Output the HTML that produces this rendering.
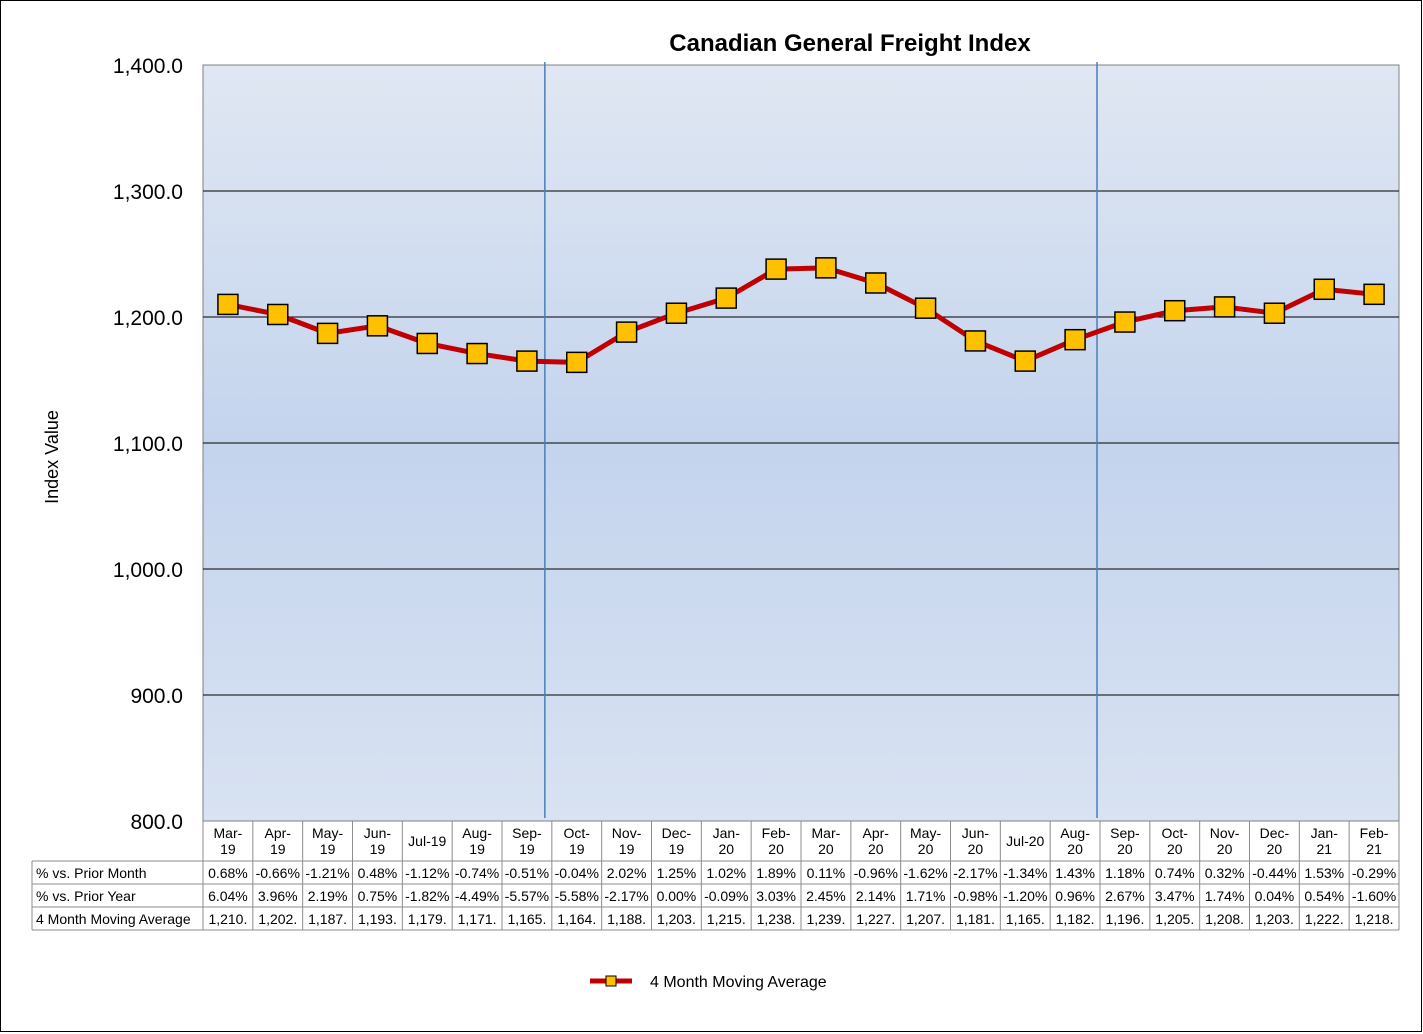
<!DOCTYPE html>
<html><head><meta charset="utf-8"><style>
body{margin:0;background:#fff;}
svg{display:block;font-family:"Liberation Sans",Arial,sans-serif;}
</style></head><body>
<svg id="chart" width="1423" height="1034" viewBox="0 0 1423 1034" xmlns="http://www.w3.org/2000/svg">
<defs>
<linearGradient id="bg" x1="0" y1="0" x2="0" y2="1">
<stop offset="0" stop-color="#e0e7f3"/>
<stop offset="0.5" stop-color="#c4d4ed"/>
<stop offset="1" stop-color="#d8e2f2"/>
</linearGradient>
</defs>
<rect x="0.5" y="0.5" width="1421" height="1031" fill="#fff" stroke="#000"/>
<text x="850" y="51" text-anchor="middle" font-size="24" font-weight="bold">Canadian General Freight Index</text>
<rect x="203" y="65" width="1196" height="756" fill="url(#bg)" stroke="#808080"/>
<text transform="translate(58,457) rotate(-90)" text-anchor="middle" font-size="18">Index Value</text>
<g id="grid"></g><g id="yticks"></g><g id="vlines"></g><g id="series"></g><g id="table"></g>
<g>
<line x1="590" y1="981" x2="632" y2="981" stroke="#c00000" stroke-width="5"/>
<rect x="606" y="976" width="10" height="10" fill="#ffc000" stroke="#000"/>
<text x="650" y="987" font-size="16">4 Month Moving Average</text>
</g>
</svg>
<script>
const categories=["Mar-19","Apr-19","May-19","Jun-19","Jul-19","Aug-19","Sep-19","Oct-19","Nov-19","Dec-19","Jan-20","Feb-20","Mar-20","Apr-20","May-20","Jun-20","Jul-20","Aug-20","Sep-20","Oct-20","Nov-20","Dec-20","Jan-21","Feb-21"];
const movingAvg=[1210,1202,1187,1193,1179,1171,1165,1164,1188,1203,1215,1238,1239,1227,1207,1181,1165,1182,1196,1205,1208,1203,1222,1218];
const priorMonth=["0.68%","-0.66%","-1.21%","0.48%","-1.12%","-0.74%","-0.51%","-0.04%","2.02%","1.25%","1.02%","1.89%","0.11%","-0.96%","-1.62%","-2.17%","-1.34%","1.43%","1.18%","0.74%","0.32%","-0.44%","1.53%","-0.29%"];
const priorYear=["6.04%","3.96%","2.19%","0.75%","-1.82%","-4.49%","-5.57%","-5.58%","-2.17%","0.00%","-0.09%","3.03%","2.45%","2.14%","1.71%","-0.98%","-1.20%","0.96%","2.67%","3.47%","1.74%","0.04%","0.54%","-1.60%"];
const yTicks=[800,900,1000,1100,1200,1300,1400];
const NS="http://www.w3.org/2000/svg";
const X0=203,X1=1399,Y0=821,Y1=65,YMIN=800,YMAX=1400;
const cw=(X1-X0)/categories.length;
const xPos=i=>X0+cw*(i+0.5);
const yPos=v=>Y0-(v-YMIN)/(YMAX-YMIN)*(Y0-Y1);
function mk(tag,attrs,parent,text){const e=document.createElementNS(NS,tag);for(const k in attrs)e.setAttribute(k,attrs[k]);if(text!==undefined)e.textContent=text;document.getElementById(parent).appendChild(e);return e;}
yTicks.forEach(t=>{
  if(t>YMIN&&t<YMAX){const l=mk('line',{x1:X0,x2:X1,y1:yPos(t),y2:yPos(t),stroke:'#000','stroke-width':1},'grid');
  
  }
  const tx=mk('text',{x:183,y:yPos(t)+8,'text-anchor':'end','font-size':21},'yticks',t.toLocaleString('en-US',{minimumFractionDigits:1}));
  
  
});
[6.86,17.94].forEach(p=>{const x=X0+cw*p;const l=mk('line',{x1:x,x2:x,y1:62,y2:818,stroke:'#4a7ebb','stroke-width':1.5},'vlines');
  
  });
const pts=movingAvg.map((v,i)=>xPos(i)+','+yPos(v)).join(' ');
const pl=mk('polyline',{points:pts,fill:'none',stroke:'#c00000','stroke-width':5,'stroke-linejoin':'round'},'series');


movingAvg.forEach((v,i)=>{const r=mk('rect',{x:xPos(i)-10,y:yPos(v)-10,width:20,height:20,fill:'#ffc000',stroke:'#000','stroke-width':1.5},'series');
  
  });
const rows=[[821,861],[861,884],[884,907],[907,930]];
const g='table';
function ln(x1,y1,x2,y2){const l=mk('line',{x1,y1,x2,y2,stroke:'#8c8c8c','stroke-width':1},g);
  
  }
rows.forEach(r=>ln(32,r[1],X1,r[1]));
ln(32,861,32,930);
for(let i=0;i<=categories.length;i++)ln(X0+cw*i,821,X0+cw*i,930);
categories.forEach((c,i)=>{
  const parts=c==="Jul-19"||c==="Jul-20"?[c]:[c.split('-')[0]+'-',c.split('-')[1]];
  if(parts.length===1){const t=mk('text',{x:xPos(i),y:846,'text-anchor':'middle','font-size':14},g,parts[0]);}
  else parts.forEach((p,k)=>{const t=mk('text',{x:xPos(i),y:838+k*16,'text-anchor':'middle','font-size':14},g,p);});
  const vals=[priorMonth[i],priorYear[i],movingAvg[i].toLocaleString('en-US')+'.'];
  vals.forEach((s,k)=>{const t=mk('text',{x:xPos(i),y:rows[k+1][1]-6,'text-anchor':'middle','font-size':14},g,s);});
});
["% vs. Prior Month","% vs. Prior Year","4 Month Moving Average"].forEach((s,k)=>{const t=mk('text',{x:36,y:rows[k+1][1]-6,'font-size':14},g,s);});
</script>
</body></html>
